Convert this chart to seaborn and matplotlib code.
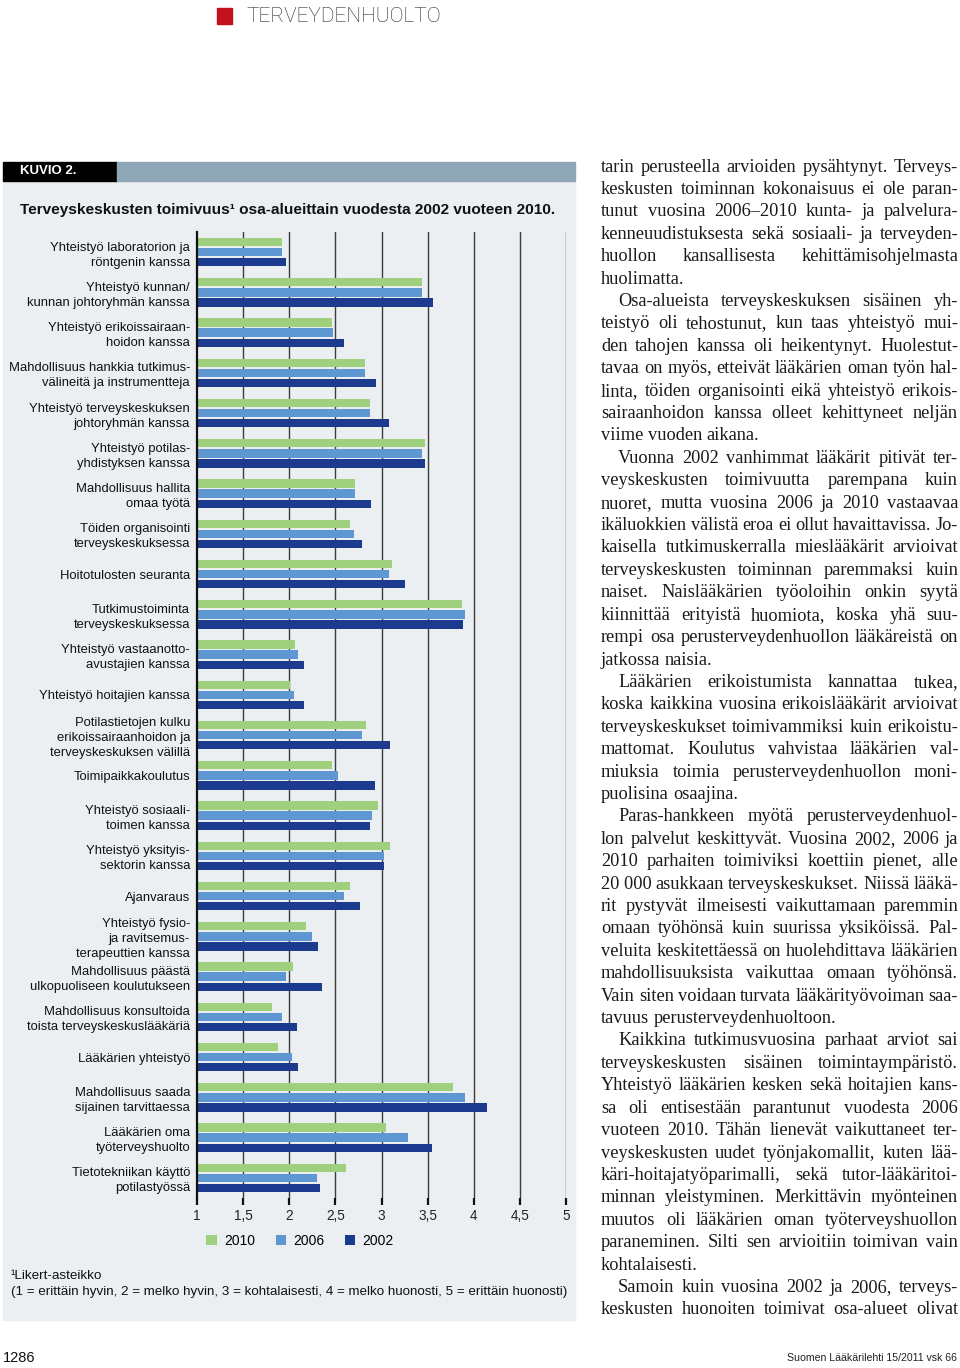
import matplotlib
matplotlib.use("Agg")
import matplotlib.pyplot as plt
from matplotlib.patches import Rectangle
import pandas as pd
import seaborn as sns

# Kuvio 2 data (Likert 1-5), luettu kuvasta
kategoriat = [
    "Yhteistyö laboratorion ja\nröntgenin kanssa",
    "Yhteistyö kunnan/\nkunnan johtoryhmän kanssa",
    "Yhteistyö erikoissairaan-\nhoidon kanssa",
    "Mahdollisuus hankkia tutkimus-\nvälineitä ja instrumentteja",
    "Yhteistyö terveyskeskuksen\njohtoryhmän kanssa",
    "Yhteistyö potilas-\nyhdistyksen kanssa",
    "Mahdollisuus hallita\nomaa työtä",
    "Töiden organisointi\nterveyskeskuksessa",
    "Hoitotulosten seuranta",
    "Tutkimustoiminta\nterveyskeskuksessa",
    "Yhteistyö vastaanotto-\navustajien kanssa",
    "Yhteistyö hoitajien kanssa",
    "Potilastietojen kulku\nerikoissairaanhoidon ja\nterveyskeskuksen välillä",
    "Toimipaikkakoulutus",
    "Yhteistyö sosiaali-\ntoimen kanssa",
    "Yhteistyö yksityis-\nsektorin kanssa",
    "Ajanvaraus",
    "Yhteistyö fysio-\nja ravitsemus-\nterapeuttien kanssa",
    "Mahdollisuus päästä\nulkopuoliseen koulutukseen",
    "Mahdollisuus konsultoida\ntoista terveyskeskuslääkäriä",
    "Lääkärien yhteistyö",
    "Mahdollisuus saada\nsijainen tarvittaessa",
    "Lääkärien oma\ntyöterveyshuolto",
    "Tietotekniikan käyttö\npotilastyössä",
]
v2010 = [1.92, 3.44, 2.46, 2.82, 2.88, 3.47, 2.71, 2.66, 3.11, 3.87, 2.06, 2.01,
         2.83, 2.46, 2.96, 3.09, 2.66, 2.18, 2.04, 1.81, 1.88, 3.77, 3.05, 2.62]
v2006 = [1.92, 3.44, 2.47, 2.82, 2.88, 3.44, 2.71, 2.70, 3.08, 3.90, 2.10, 2.05,
         2.79, 2.53, 2.90, 3.03, 2.59, 2.25, 1.97, 1.92, 2.03, 3.91, 3.29, 2.30]
v2002 = [1.96, 3.56, 2.59, 2.94, 3.08, 3.47, 2.89, 2.79, 3.26, 3.88, 2.16, 2.16,
         3.09, 2.93, 2.87, 3.03, 2.77, 2.31, 2.36, 2.08, 2.09, 4.14, 3.55, 2.33]
vuodet = ["2010", "2006", "2002"]
x_ticks = [1, 1.5, 2, 2.5, 3, 3.5, 4, 4.5, 5]
x_ticklabels = ["1", "1,5", "2", "2,5", "3", "3,5", "4", "4,5", "5"]

# artikkelin palsta, kappaleittain rivi riviltä
kappaleet = [
    ["tarin perusteella arvioiden pysähtynyt. Terveys-",
     "keskusten toiminnan kokonaisuus ei ole paran-",
     "tunut vuosina 2006–2010 kunta- ja palvelura-",
     "kenneuudistuksesta sekä sosiaali- ja terveyden-",
     "huollon kansallisesta kehittämisohjelmasta",
     "huolimatta."],
    ["Osa-alueista terveyskeskuksen sisäinen yh-",
     "teistyö oli tehostunut, kun taas yhteistyö mui-",
     "den tahojen kanssa oli heikentynyt. Huolestut-",
     "tavaa on myös, etteivät lääkärien oman työn hal-",
     "linta, töiden organisointi eikä yhteistyö erikois-",
     "sairaanhoidon kanssa olleet kehittyneet neljän",
     "viime vuoden aikana."],
    ["Vuonna 2002 vanhimmat lääkärit pitivät ter-",
     "veyskeskusten toimivuutta parempana kuin",
     "nuoret, mutta vuosina 2006 ja 2010 vastaavaa",
     "ikäluokkien välistä eroa ei ollut havaittavissa. Jo-",
     "kaisella tutkimuskerralla mieslääkärit arvioivat",
     "terveyskeskusten toiminnan paremmaksi kuin",
     "naiset. Naislääkärien työoloihin onkin syytä",
     "kiinnittää erityistä huomiota, koska yhä suu-",
     "rempi osa perusterveydenhuollon lääkäreistä on",
     "jatkossa naisia."],
    ["Lääkärien erikoistumista kannattaa tukea,",
     "koska kaikkina vuosina erikoislääkärit arvioivat",
     "terveyskeskukset toimivammiksi kuin erikoistu-",
     "mattomat. Koulutus vahvistaa lääkärien val-",
     "miuksia toimia perusterveydenhuollon moni-",
     "puolisina osaajina."],
    ["Paras-hankkeen myötä perusterveydenhuol-",
     "lon palvelut keskittyvät. Vuosina 2002, 2006 ja",
     "2010 parhaiten toimiviksi koettiin pienet, alle",
     "20\u00a0000 asukkaan terveyskeskukset. Niissä lääkä-",
     "rit pystyvät ilmeisesti vaikuttamaan paremmin",
     "omaan työhönsä kuin suurissa yksiköissä. Pal-",
     "veluita keskitettäessä on huolehdittava lääkärien",
     "mahdollisuuksista vaikuttaa omaan työhönsä.",
     "Vain siten voidaan turvata lääkärityövoiman saa-",
     "tavuus perusterveydenhuoltoon."],
    ["Kaikkina tutkimusvuosina parhaat arviot sai",
     "terveyskeskusten sisäinen toimintaympäristö.",
     "Yhteistyö lääkärien kesken sekä hoitajien kans-",
     "sa oli entisestään parantunut vuodesta 2006",
     "vuoteen 2010. Tähän lienevät vaikuttaneet ter-",
     "veyskeskusten uudet työnjakomallit, kuten lää-",
     "käri-hoitajatyöparimalli, sekä tutor-lääkäritoi-",
     "minnan yleistyminen. Merkittävin myönteinen",
     "muutos oli lääkärien oman työterveyshuollon",
     "paraneminen. Silti sen arvioitiin toimivan vain",
     "kohtalaisesti."],
    ["Samoin kuin vuosina 2002 ja 2006, terveys-",
     "keskusten huonoiten toimivat osa-alueet olivat"],
]

W, H = 960, 1368
SANS = ["Liberation Sans", "DejaVu Sans"]
SERIF = ["Liberation Serif", "DejaVu Serif"]
varit = {"2010": "#9fd07e", "2006": "#5e97d2", "2002": "#1d3b8e"}


def fx(x):
    return x / W


def fy(y):
    return 1 - y / H


rows = []
for i, k in enumerate(kategoriat):
    for vuosi, arvot in zip(vuodet, [v2010, v2006, v2002]):
        rows.append({"osa-alue": k, "vuosi": vuosi, "arvo": arvot[i]})
df = pd.DataFrame(rows)

fig = plt.figure(figsize=(9.6, 13.68), dpi=100)
fig.patch.set_facecolor("white")

# otsake sivun ylälaidassa
fig.add_artist(Rectangle((fx(217), fy(24)), 15 / W, 16 / H, transform=fig.transFigure,
                         color="#c3121f", zorder=-1))
fig.text(fx(246), fy(16), "TERVEYDENHUOLTO", fontsize=15, family=["Roboto", "DejaVu Sans"],
         fontweight="light", color="#222222", va="center")

# kuvion tausta ja otsikkopalkki
fig.add_artist(Rectangle((fx(3), fy(1320)), 572 / W, 1139 / H, transform=fig.transFigure,
                         color="#eceff2", zorder=-2))
fig.add_artist(Rectangle((fx(3), fy(181)), 114 / W, 19 / H, transform=fig.transFigure,
                         color="#000000", zorder=-1))
fig.add_artist(Rectangle((fx(117), fy(181)), 458 / W, 19 / H, transform=fig.transFigure,
                         color="#8fa6b6", zorder=-1))
fig.text(fx(20), fy(171.5), "KUVIO 2.", fontsize=9.5, family=SANS, fontweight="bold",
         color="white", va="center")
fig.text(fx(20), fy(210), "Terveyskeskusten toimivuus¹ osa-alueittain vuodesta 2002 vuoteen 2010.",
         fontsize=11.1, family=SANS, fontweight="bold", color="#111111", va="center")

ax = fig.add_axes([fx(197), fy(1198), 369 / W, 966 / H])
ax.set_facecolor("none")
sns.barplot(data=df, y="osa-alue", x="arvo", hue="vuosi", hue_order=vuodet,
            palette=varit, orient="h", width=0.75, gap=0.17, saturation=1,
            ax=ax, zorder=3)

handles, labels = ax.get_legend_handles_labels()
if ax.get_legend() is not None:
    ax.get_legend().remove()

ax.set_xlim(1, 5)
ax.set_xticks(x_ticks)
ax.set_xticklabels(x_ticklabels, fontsize=9.8, family=SANS, color="#222222")
ax.set_xlabel("")
ax.set_ylabel("")
for t in ax.get_yticklabels():
    t.set_fontsize(9.4)
    t.set_family(SANS)
    t.set_color("#111111")
    t.set_linespacing(1.32)
ax.tick_params(axis="y", length=0, pad=5)
ax.tick_params(axis="x", direction="out", length=5, width=1.6, color="#111111", pad=3)
for g in x_ticks[1:]:
    ax.axvline(g, color="#3c3c3c", lw=1.0, zorder=1)
for s in ["top", "right", "bottom"]:
    ax.spines[s].set_visible(False)
ax.spines["left"].set_color("#111111")
ax.spines["left"].set_linewidth(1.6)
ax.spines["left"].set_zorder(4)

fig.legend(handles, labels, loc="center", bbox_to_anchor=(fx(300), fy(1241)), ncol=3,
           frameon=False, handlelength=0.75, handleheight=0.75, handletextpad=0.5,
           columnspacing=1.5, prop={"family": SANS, "size": 10})

fig.text(fx(11), fy(1276), "¹Likert-asteikko", fontsize=9.7, family=SANS,
         color="#111111", va="center")
fig.text(fx(11), fy(1292),
         "(1 = erittäin hyvin, 2 = melko hyvin, 3 = kohtalaisesti, 4 = melko huonosti, 5 = erittäin huonosti)",
         fontsize=9.6, family=SANS, color="#111111", va="center")

# sivun alalaita
fig.text(fx(3), fy(1358), "1286", fontsize=10.5, family=SANS, color="#111111", va="center")
fig.text(fx(957), fy(1358), "Suomen Lääkärilehti 15/2011 vsk 66", fontsize=7.6, family=SANS,
         color="#222222", va="center", ha="right")

# palstateksti, tasattu molemmista reunoista
renderer = fig.canvas.get_renderer()
fs = 13.2
left, right = 601, 958
rivi_y = 167
rivivali = 22.41
for pi, kappale in enumerate(kappaleet):
    for li, rivi in enumerate(kappale):
        x0 = left + (17 if (pi > 0 and li == 0) else 0)
        viimeinen = (li == len(kappale) - 1) and pi < len(kappaleet) - 1
        sanat = rivi.split(" ")
        koko = fs
        tekstit = [fig.text(0, fy(rivi_y), s, fontsize=koko, family=SERIF, color="#1a1a1a",
                            va="center") for s in sanat]
        leveydet = [t.get_window_extent(renderer).width for t in tekstit]
        min_vali = 3.5
        tarve = sum(leveydet) + min_vali * (len(sanat) - 1)
        if not viimeinen and tarve > right - x0:
            kerroin = (right - x0 - min_vali * (len(sanat) - 1)) / sum(leveydet)
            koko = fs * kerroin
            for t in tekstit:
                t.set_fontsize(koko)
            leveydet = [t.get_window_extent(renderer).width for t in tekstit]
        if viimeinen or len(sanat) == 1:
            vali = koko * 0.25 * 100 / 72
        else:
            vali = (right - x0 - sum(leveydet)) / (len(sanat) - 1)
        x = x0
        for t, w in zip(tekstit, leveydet):
            t.set_x(fx(x))
            x += w + vali
        rivi_y += rivivali

fig.savefig("out.png", dpi=100)
